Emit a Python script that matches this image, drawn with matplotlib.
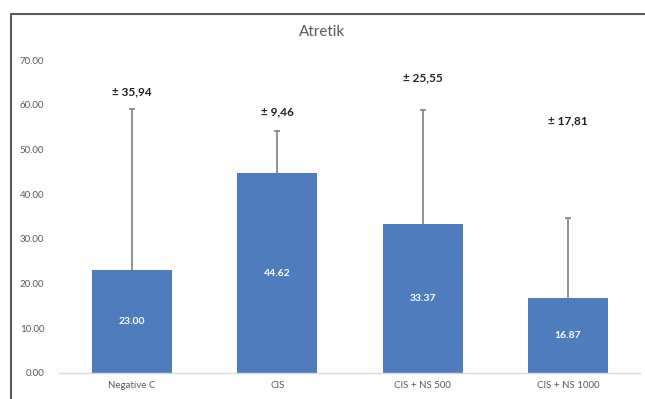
import matplotlib
matplotlib.use('Agg')
import matplotlib.pyplot as plt
import matplotlib.patches as mpatches

plt.rcParams['font.family'] = ['Lato', 'DejaVu Sans']

# 各组数据：均值与标准差
groups = ['Negative C', 'CIS', 'CIS + NS 500', 'CIS + NS 1000']
means = [23.00, 44.62, 33.37, 16.87]
sds = [35.94, 9.46, 25.55, 17.81]
sd_labels = ['± 35,94', '± 9,46', '± 25,55', '± 17,81']
# 标准差文字的纵向位置（数据坐标）
sd_label_y = [62.9, 58.4, 66.0, 56.4]
y_ticks = [0, 10, 20, 30, 40, 50, 60, 70]

fig = plt.figure(figsize=(6.45, 3.99), dpi=100)
ax = fig.add_axes([0.0922, 0.0652, 0.9008, 0.7844])

x = list(range(len(groups)))
ax.bar(x, means, width=0.55, color='#4f7cbd', zorder=2)

# 只画向上的误差线，顶端加短横
tops = [m + s for m, s in zip(means, sds)]
ax.vlines(x, means, tops, colors='#7f7f7f', linewidth=1.2, zorder=3)
ax.plot(x, tops, linestyle='none', marker='_', markersize=5,
        markeredgewidth=1.2, color='#7f7f7f', zorder=3)

# 柱内数值
for xi, m in zip(x, means):
    ax.text(xi, m / 2, f'{m:.2f}', ha='center', va='center',
            color='white', fontsize=7.5, fontweight='bold')

# 标准差标注
for xi, lab, yy in zip(x, sd_labels, sd_label_y):
    ax.text(xi, yy, lab, ha='center', va='center', color='#222222',
            fontsize=8.5, fontweight='bold')

ax.set_xlim(-0.5, len(groups) - 0.5)
ax.set_ylim(0, 70)
ax.set_yticks(y_ticks)
ax.set_yticklabels([f'{v:.2f}' for v in y_ticks])
ax.set_xticks(x)
ax.set_xticklabels(groups)
ax.tick_params(axis='both', length=0, labelsize=7, colors='#595959')
ax.tick_params(axis='y', pad=11)
ax.tick_params(axis='x', pad=6)
for s in ['top', 'right', 'left']:
    ax.spines[s].set_visible(False)
ax.spines['bottom'].set_color('#d9d9d9')
ax.spines['bottom'].set_linewidth(1.0)

fig.text(0.5, 1 - 32 / 399, 'Atretik', ha='center', va='center',
         fontsize=11, color='#595959')

# 外框
frame = mpatches.Rectangle((11 / 645, -0.05), 1.0, 1 - 14 / 399 + 0.05,
                           transform=fig.transFigure, fill=False,
                           edgecolor='#5a5a5a', linewidth=1.5)
fig.patches.append(frame)

fig.savefig('out.png', dpi=100)
